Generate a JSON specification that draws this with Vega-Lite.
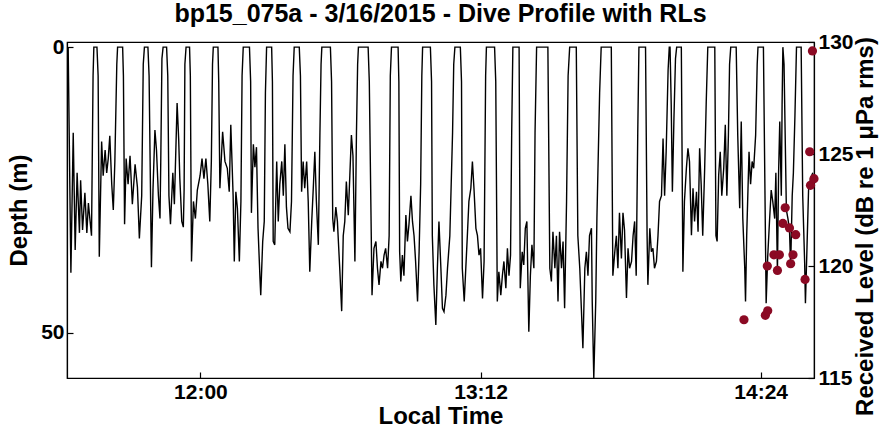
{
"$schema": "https://vega.github.io/schema/vega-lite/v6.json",
"width": 747, "height": 336,
"autosize": {"type": "none"},
"padding": {"left": 67, "top": 42, "right": 74, "bottom": 56},
"background": "white",
"title": {"text": "bp15_075a - 3/16/2015 - Dive Profile with RLs", "fontSize": 25, "font": "Liberation Sans", "fontWeight": "bold", "color": "black", "anchor": "middle", "offset": 4},
"config": {
  "view": {"stroke": "black", "strokeWidth": 1.2},
  "axis": {"domainColor": "black", "tickColor": "black", "labelColor": "black", "titleColor": "black", "labelFont": "Liberation Sans", "titleFont": "Liberation Sans", "labelFontSize": 21, "labelFontWeight": "bold", "titleFontSize": 24, "titleFontWeight": "bold", "grid": false, "tickSize": -6, "domainWidth": 1.2, "tickWidth": 1.2}
},
"datasets": {
  "profile": [
{"t":686.0,"d":0},{"t":686.7,"d":39.5},{"t":687.3,"d":15.0},{"t":687.8,"d":35.5},{"t":688.3,"d":22},{"t":688.9,"d":32.5},{"t":689.2,"d":23.3},{"t":689.7,"d":32},{"t":690.3,"d":25.5},{"t":690.8,"d":32.5},{"t":691.2,"d":27.3},{"t":691.6,"d":30.2},{"t":692.0,"d":33},{"t":692.4,"d":5},{"t":692.6,"d":0},{"t":693.4,"d":0},{"t":693.7,"d":5},{"t":694.0,"d":36.7},
{"t":694.6,"d":16.5},{"t":695.0,"d":22.5},{"t":695.5,"d":18},{"t":695.9,"d":22},{"t":696.3,"d":19.5},{"t":696.7,"d":15.5},{"t":697.2,"d":24},{"t":697.6,"d":28.5},{"t":698.0,"d":20},{"t":698.5,"d":3},{"t":698.7,"d":0},{"t":700.0,"d":0},{"t":700.2,"d":5},
{"t":700.5,"d":31},{"t":700.9,"d":19.5},{"t":701.4,"d":24},{"t":701.9,"d":19},{"t":702.5,"d":27.5},{"t":703.2,"d":20.5},{"t":703.8,"d":24.5},{"t":704.3,"d":33.5},{"t":704.9,"d":26},{"t":705.3,"d":3},{"t":705.6,"d":0},{"t":706.5,"d":0},{"t":706.8,"d":5},
{"t":707.4,"d":38.5},{"t":707.8,"d":25},{"t":708.3,"d":14.5},{"t":708.7,"d":18},{"t":709.2,"d":26},{"t":709.6,"d":30},{"t":709.8,"d":20},{"t":710.1,"d":2},{"t":710.4,"d":0},{"t":711.3,"d":0},{"t":711.6,"d":5},
{"t":711.9,"d":26},{"t":712.3,"d":31},{"t":712.9,"d":22},{"t":713.3,"d":27.5},{"t":714.0,"d":9.8},{"t":714.4,"d":16},{"t":714.7,"d":23},{"t":715.2,"d":30.5},{"t":715.6,"d":31.5},{"t":715.8,"d":25},{"t":716.0,"d":3},{"t":716.3,"d":0},{"t":717.2,"d":0},{"t":717.4,"d":5},
{"t":717.7,"d":37.5},{"t":718.2,"d":27},{"t":718.7,"d":30},{"t":719.2,"d":25},{"t":719.9,"d":22.5},{"t":720.4,"d":19.5},{"t":720.9,"d":23},{"t":721.4,"d":19.5},{"t":721.9,"d":24},{"t":722.4,"d":30.5},{"t":722.8,"d":20},{"t":723.1,"d":3},{"t":723.3,"d":0},{"t":724.5,"d":0},{"t":724.7,"d":6},
{"t":725.0,"d":24.7},{"t":725.7,"d":14.8},{"t":726.3,"d":20},{"t":726.9,"d":21.2},{"t":727.4,"d":25.3},{"t":727.8,"d":13.6},{"t":728.4,"d":26},{"t":728.7,"d":37.5},{"t":729.1,"d":25.3},{"t":729.5,"d":28.2},{"t":730.0,"d":37.5},{"t":730.4,"d":27},{"t":730.7,"d":5},{"t":731.0,"d":0},{"t":732.6,"d":0},{"t":732.9,"d":6},
{"t":733.1,"d":29},{"t":733.6,"d":17},{"t":734.0,"d":21},{"t":734.4,"d":17.5},{"t":734.8,"d":31.7},{"t":735.3,"d":40.4},{"t":735.5,"d":43.4},{"t":736.0,"d":34},{"t":736.4,"d":30.5},{"t":736.7,"d":8},{"t":737.0,"d":0},{"t":738.3,"d":0},{"t":738.5,"d":6},
{"t":738.7,"d":34},{"t":739.1,"d":34.6},{"t":739.6,"d":20},{"t":740.0,"d":30.5},{"t":740.4,"d":24},{"t":740.9,"d":20},{"t":741.3,"d":26},{"t":741.7,"d":17},{"t":742.1,"d":28},{"t":742.5,"d":31.7},{"t":743.0,"d":32.3},{"t":743.4,"d":27},{"t":743.8,"d":5},{"t":744.1,"d":0},{"t":745.4,"d":0},{"t":745.7,"d":5},
{"t":746.0,"d":25.3},{"t":746.4,"d":20},{"t":746.8,"d":24.7},{"t":747.3,"d":20},{"t":747.7,"d":27},{"t":748.1,"d":39.3},{"t":748.6,"d":30.5},{"t":749.0,"d":24.7},{"t":749.4,"d":18.3},{"t":749.8,"d":27},{"t":750.3,"d":34.6},{"t":750.7,"d":15.4},{"t":751.0,"d":3},{"t":751.2,"d":0},{"t":753.4,"d":0},{"t":753.7,"d":6},
{"t":754.0,"d":30},{"t":754.3,"d":32.3},{"t":754.8,"d":28},{"t":755.2,"d":30.5},{"t":755.8,"d":38.7},{"t":756.3,"d":46.2},{"t":756.7,"d":33},{"t":757.1,"d":30.5},{"t":757.5,"d":23.5},{"t":758.0,"d":29.4},{"t":758.4,"d":22.4},{"t":758.8,"d":15.4},{"t":759.2,"d":19},{"t":759.7,"d":37.5},{"t":760.1,"d":15},{"t":760.4,"d":3},{"t":760.6,"d":0},{"t":763.1,"d":0},{"t":763.4,"d":6},
{"t":764.1,"d":43.4},{"t":764.6,"d":35.2},{"t":765.1,"d":34},{"t":765.5,"d":38.7},{"t":765.9,"d":41.6},{"t":766.4,"d":37.5},{"t":766.8,"d":38.7},{"t":767.2,"d":36.4},{"t":767.6,"d":35.2},{"t":768.1,"d":38.7},{"t":768.5,"d":33},{"t":768.8,"d":5},{"t":769.1,"d":0},{"t":770.8,"d":0},{"t":771.0,"d":6},
{"t":771.2,"d":35.8},{"t":771.5,"d":41},{"t":771.9,"d":36.4},{"t":772.3,"d":40},{"t":772.8,"d":29.4},{"t":773.2,"d":34},{"t":773.6,"d":31},{"t":774.1,"d":26},{"t":774.5,"d":30.5},{"t":774.9,"d":33},{"t":775.3,"d":37.5},{"t":775.8,"d":44.5},{"t":776.2,"d":35.8},{"t":776.6,"d":24},{"t":776.9,"d":5},{"t":777.1,"d":0},{"t":779.1,"d":0},{"t":779.4,"d":6},
{"t":779.6,"d":33},{"t":780.0,"d":41.6},{"t":780.5,"d":48.6},{"t":780.9,"d":38.7},{"t":781.3,"d":30.5},{"t":781.8,"d":38.7},{"t":782.2,"d":45.7},{"t":782.6,"d":46.3},{"t":783.1,"d":43.4},{"t":783.5,"d":38.7},{"t":784.1,"d":33},{"t":784.8,"d":15},{"t":785.1,"d":3},{"t":785.4,"d":0},{"t":786.8,"d":0},{"t":787.1,"d":6},
{"t":787.3,"d":38.7},{"t":787.8,"d":44.5},{"t":788.2,"d":38.7},{"t":788.6,"d":33},{"t":789.0,"d":27},{"t":789.5,"d":24.7},{"t":789.9,"d":20},{"t":790.3,"d":24.7},{"t":790.8,"d":31.7},{"t":791.2,"d":33},{"t":791.6,"d":36.4},{"t":792.0,"d":35.2},{"t":792.5,"d":44},{"t":792.9,"d":37.5},{"t":793.3,"d":5},{"t":793.5,"d":0},{"t":795.6,"d":0},{"t":795.9,"d":6},
{"t":796.3,"d":44.5},{"t":796.7,"d":39.3},{"t":797.2,"d":43.4},{"t":797.6,"d":40},{"t":798.0,"d":37.5},{"t":798.5,"d":42.2},{"t":798.9,"d":35.2},{"t":799.3,"d":40},{"t":799.7,"d":36.4},{"t":800.0,"d":15},{"t":800.3,"d":0},{"t":801.9,"d":0},
{"t":802.2,"d":42.2},{"t":802.7,"d":35.8},{"t":803.1,"d":38.1},{"t":803.5,"d":31.7},{"t":803.9,"d":30.5},{"t":804.4,"d":49.8},{"t":804.8,"d":40},{"t":805.2,"d":34.6},{"t":805.7,"d":38.7},{"t":806.0,"d":15},{"t":806.4,"d":0},{"t":809.3,"d":0},
{"t":809.8,"d":38.7},{"t":810.2,"d":41},{"t":810.6,"d":32.3},{"t":811.1,"d":38.7},{"t":811.5,"d":33},{"t":811.9,"d":44.5},{"t":812.3,"d":32.3},{"t":812.8,"d":38.7},{"t":813.2,"d":34},{"t":813.6,"d":45.7},{"t":814.1,"d":27},{"t":814.5,"d":5},{"t":814.9,"d":0},{"t":816.6,"d":0},
{"t":817.0,"d":33},{"t":817.5,"d":38.7},{"t":817.9,"d":45.7},{"t":818.3,"d":52.7},{"t":818.8,"d":38.7},{"t":819.2,"d":35.8},{"t":819.6,"d":40},{"t":820.0,"d":33},{"t":820.5,"d":31.7},{"t":820.7,"d":44.5},{"t":821.1,"d":57.9},{"t":821.6,"d":44.5},{"t":821.9,"d":30},{"t":822.6,"d":8},{"t":823.0,"d":0},{"t":825.6,"d":0},
{"t":826.0,"d":40},{"t":826.5,"d":35.8},{"t":826.9,"d":33},{"t":827.3,"d":38.7},{"t":827.7,"d":29},{"t":828.2,"d":37},{"t":828.6,"d":29},{"t":829.0,"d":32},{"t":829.5,"d":43.9},{"t":829.9,"d":35.2},{"t":830.3,"d":38.7},{"t":830.8,"d":37.5},{"t":831.2,"d":33},{"t":831.6,"d":30.5},{"t":832.0,"d":40},{"t":832.4,"d":15},{"t":832.7,"d":0},{"t":834.4,"d":0},
{"t":834.8,"d":33},{"t":835.0,"d":41.6},{"t":835.5,"d":31.7},{"t":835.9,"d":35.8},{"t":836.3,"d":35.2},{"t":836.7,"d":38.7},{"t":837.2,"d":37.5},{"t":837.6,"d":33},{"t":838.0,"d":27},{"t":838.5,"d":26},{"t":838.9,"d":16},{"t":839.3,"d":26},{"t":839.7,"d":18.3},{"t":840.2,"d":4},{"t":840.5,"d":0},{"t":840.7,"d":0},{"t":841.0,"d":10},{"t":841.3,"d":25.3},{"t":841.7,"d":12.5},{"t":842.1,"d":2},{"t":842.4,"d":0},{"t":843.6,"d":0},
{"t":844.0,"d":39.3},{"t":844.4,"d":27},{"t":844.9,"d":21.2},{"t":845.3,"d":17.7},{"t":845.7,"d":20},{"t":846.2,"d":32.9},{"t":846.6,"d":24.7},{"t":847.0,"d":30.5},{"t":847.5,"d":25.3},{"t":847.9,"d":32.3},{"t":848.3,"d":17.7},{"t":848.7,"d":24},{"t":849.1,"d":33},{"t":849.6,"d":21.2},{"t":850.0,"d":9.6},{"t":850.4,"d":0},{"t":852.2,"d":0},
{"t":852.5,"d":33},{"t":852.8,"d":34},{"t":853.2,"d":22.4},{"t":853.6,"d":18.3},{"t":854.0,"d":26},{"t":854.5,"d":21.2},{"t":854.9,"d":13.6},{"t":855.3,"d":26},{"t":855.7,"d":15.4},{"t":856.0,"d":3},{"t":856.3,"d":0},{"t":857.7,"d":0},
{"t":858.1,"d":15.4},{"t":858.6,"d":28.2},{"t":859.0,"d":13},{"t":859.4,"d":30},{"t":859.9,"d":38.7},{"t":860.1,"d":44.5},{"t":860.4,"d":33},{"t":861.0,"d":18.3},{"t":861.4,"d":24},{"t":861.8,"d":20},{"t":862.2,"d":21.2},{"t":862.7,"d":15.4},{"t":863.1,"d":3},{"t":863.3,"d":0},{"t":864.7,"d":0},
{"t":865.4,"d":44.8},{"t":865.8,"d":36.7},{"t":866.3,"d":30},{"t":866.7,"d":25},{"t":867.1,"d":27},{"t":867.6,"d":30},{"t":867.9,"d":22},{"t":868.3,"d":39.5},{"t":868.6,"d":22},{"t":868.9,"d":13},{"t":869.3,"d":26},{"t":869.5,"d":10},{"t":869.7,"d":0},{"t":870.0,"d":3},{"t":870.6,"d":28.5},{"t":871.0,"d":30},{"t":871.4,"d":32},{"t":871.7,"d":38.4},{"t":872.1,"d":26},{"t":872.4,"d":22},{"t":872.8,"d":12},{"t":873.2,"d":0},{"t":874.4,"d":0},{"t":874.8,"d":26},{"t":875.3,"d":37.8},{"t":875.5,"d":44.8},{"t":875.9,"d":35},{"t":876.3,"d":25},{"t":876.8,"d":23},{"t":877.4,"d":22}
  ],
  "rl": [
{"t":859.7,"rl":117.6},{"t":865.2,"rl":117.8},{"t":865.8,"rl":118.0},{"t":865.7,"rl":120.0},{"t":868.3,"rl":119.8},{"t":867.4,"rl":120.5},{"t":868.8,"rl":120.5},{"t":870.3,"rl":122.6},{"t":869.7,"rl":121.9},{"t":871.4,"rl":121.7},{"t":873.0,"rl":121.4},{"t":872.3,"rl":120.5},{"t":871.7,"rl":120.1},{"t":875.4,"rl":119.4},{"t":876.6,"rl":125.1},{"t":876.8,"rl":123.6},{"t":877.7,"rl":123.9},{"t":877.3,"rl":129.6}
  ]
},
"layer": [
  {
    "data": {"name": "profile"},
    "mark": {"type": "line", "color": "black", "strokeWidth": 1.4, "clip": true},
    "encoding": {
      "x": {"field": "t", "type": "quantitative", "scale": {"domain": [685.7, 877.7], "nice": false, "zero": false},
            "axis": {"values": [720, 792, 864], "labelExpr": "floor(datum.value/60) + ':' + (datum.value % 60 < 10 ? '0' : '') + (datum.value % 60)", "title": "Local Time", "titleX": 373.5, "titleY": 45, "titleBaseline": "alphabetic", "titleAlign": "center", "labelPadding": 9}},
      "y": {"field": "d", "type": "quantitative", "scale": {"domain": [-0.9, 57.9], "reverse": true, "nice": false, "zero": false},
            "axis": {"values": [0, 50], "title": "Depth (m)", "titleX": -41, "titleY": 168, "titleAlign": "center", "titleBaseline": "alphabetic", "labelPadding": 9}}
    }
  },
  {
    "data": {"name": "rl"},
    "mark": {"type": "circle", "size": 85, "color": "#8b0a24", "opacity": 1},
    "encoding": {
      "x": {"field": "t", "type": "quantitative", "scale": {"domain": [685.7, 877.7], "nice": false, "zero": false}},
      "y": {"field": "rl", "type": "quantitative", "scale": {"domain": [115, 130], "nice": false, "zero": false},
            "axis": {"orient": "right", "values": [115, 120, 125, 130], "title": "Received Level (dB re 1 μPa rms)", "titleAngle": -90, "titleX": 58, "titleY": 184, "titleAlign": "center", "titleBaseline": "alphabetic", "labelPadding": 10}}
    }
  }
],
"resolve": {"scale": {"y": "independent"}}
}
